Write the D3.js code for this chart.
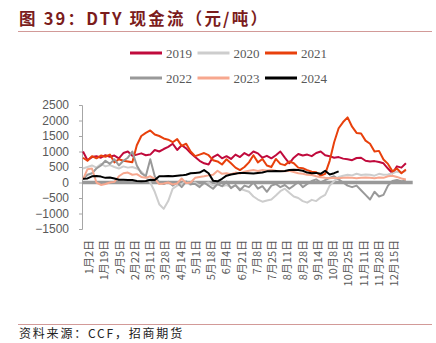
<!doctype html>
<html>
<head>
    <meta charset="utf8">
    <style>
        body { margin: 0; background: #fff; }
        .title { font-family: "Noto Sans CJK SC", sans-serif; font-weight: bold; font-size: 16.5px; fill: #7b1c1c; letter-spacing: 2.2px; }
        .source { font-family: "Noto Sans CJK SC", sans-serif; font-size: 12px; fill: #222; letter-spacing: 1.8px; }
        .legend text { font-family: "Liberation Serif", "DejaVu Serif", serif; font-size: 13px; fill: #595959; }
        .yaxis text { font-family: "Liberation Sans", Arial, sans-serif; font-size: 12px; fill: #595959; }
        .xlabel { font-family: "Noto Sans CJK SC", sans-serif; font-size: 11px; fill: #595959; }
        .series { fill: none; stroke-width: 2px; stroke-linejoin: round; }
    </style>
    <script src="https://d3js.org/d3.v7.min.js"></script>
</head>
<body>
<svg width="436" height="343"></svg>
<script>

    // 每隔 STEP 个交易日取一个点
    var STEP = 5;

    var years = ["2019", "2020", "2021", "2022", "2023", "2024"];
    var colors = ["#c00a3c", "#cdcdcd", "#e8400c", "#999999", "#f7a78e", "#000000"];

    var s2019 = [1000, 720, 820, 850, 800, 880, 830, 870, 780, 950, 1000, 860, 900, 940, 880,
                 900, 1050, 1000, 1080, 1150, 1250, 1050, 1200, 1100, 950, 820, 700, 620, 580, 820,
                 900, 780, 850, 760, 900, 820, 950, 870, 1000, 940, 800, 860, 780, 880, 1000,
                 800, 620, 800, 920, 870, 900, 850, 950, 1000, 880, 850, 800, 820, 770, 750,
                 720, 790, 800, 700, 680, 690, 660, 620, 450, 300, 520, 480, 620];
    var s2020 = [450, 500, 550, 480, 600, 520, 560, 500, 450, 520, 480, 500, 450, 350, 200,
                 0, -300, -700, -850, -600, -200, -100, -50, 50, -80, 0, -100, -50, 0, -100,
                 -50, -120, -80, -150, -100, -200, -250, -300, -450, -550, -620, -580, -550, -420, -280,
                 -200, -330, -450, -500, -600, -650, -560, -600, -480, -400, -100, 50, 180, 220, 250,
                 230, 280, 240, 260, 250, 220, 280, 250, 260, 300, 350, 320, 380];
    var s2021 = [800, 700, 850, 780, 870, 830, 900, 650, 750, 700, 680, 650, 1200, 1500, 1600,
                 1680, 1550, 1500, 1420, 1380, 1300, 1400, 1180, 1250, 1000, 850, 900, 950, 880, 720,
                 680, 580, 750, 620, 480, 400, 500, 650, 880, 650, 760, 550, 500, 760, 600,
                 560, 680, 620, 480, 460, 400, 350, 330, 220, 280, 700, 1300, 1750, 1950, 2100,
                 1800, 1600, 1580, 1350, 1250, 1000, 1020, 740, 600, 360, 450, 300, 420];
    var s2022 = [100, 250, 300, 450, 550, 700, 600, 750, 550, 700, 800, 1000, 550, 300, 200,
                 750, 200, 0, -50, 20, -100, 0, -150, 30, -50, -50, -150, 0, -100, -200,
                 -50, -120, 30, -180, -80, -250, -100, -150, 0, -200, -120, -300, -100, -50, -150,
                 -80, -200, -100, 20, -150, -50, 50, 100, 0, 80, 150, 200, 100, 0, -100,
                 -150, -100, -250, -400, -550, -300, -450, -400, -100, 50, 80, 40, 60];
    var s2023 = [100, 430, 450, 0, -80, -50, 0, 20, 200, 300, 320, 250, 270, 180, 150,
                 200, 120, -50, -30, 0, -60, -30, 130, -20, 0, 150, 180, 200, 230, 250,
                 380, 280, 300, 270, 320, 290, 350, 380, 400, 370, 400, 390, 410, 380, 370,
                 360, 380, 340, 300, 280, 250, 240, 200, 170, 150, 140, 150, 140, 150, 160,
                 150, 140, 150, 160, 150, 140, 160, 150, 200, 220, 180, 130, 100];
    var s2024 = [120, 130, 200, 210, 190, 150, 160, 130, 90, 90, 80, 80, 50, 40, 50,
                 90, 80, 200, 200, 210, 200, 220, 230, 250, 300, 310, 320, 400, 300, 60,
                 40, 120, 220, 260, 280, 310, 310, 300, 290, 310, 320, 360, 360, 370, 360,
                 370, 400, 410, 400, 380, 320, 300, 310, 280, 380, 260, 300, 360];

    var seriesData = [s2019, s2020, s2021, s2022, s2023, s2024];

    // 横轴标签，每 17 个交易日一个，从第 7 个交易日开始
    var xLabels = ["1月2日", "1月19日", "2月5日", "2月22日", "3月11日", "3月28日", "4月14日",
                   "5月1日", "5月18日", "6月4日", "6月21日", "7月8日", "7月25日", "8月11日",
                   "8月28日", "9月14日", "10月8日", "10月25日", "11月11日", "11月28日", "12月15日"];
    var labelStart = 7, labelStep = 17;

    var yTicks = [-1500, -1000, -500, 0, 500, 1000, 1500, 2000, 2500];

    var svg = d3.select("svg");

    // 标题
    svg.append("text")
       .attr("class", "title")
       .attr("x", 19)
       .attr("y", 25)
       .text("图 39：DTY 现金流（元/吨）");

    svg.append("line")
       .attr("x1", 18).attr("x2", 432)
       .attr("y1", 31.5).attr("y2", 31.5)
       .attr("stroke", "#d29a98")
       .attr("stroke-width", 1);

    var x = d3.scaleLinear().domain([0, 362]).range([83, 407.7]),
        y = d3.scaleLinear().domain([-1500, 2500]).range([229, 105]);

    // 纵轴
    var yAxis = svg.append("g")
       .attr("class", "yaxis")
       .attr("transform", "translate(82,0)")
       .call(d3.axisLeft(y).tickValues(yTicks).tickFormat(d3.format("d")).tickSize(3).tickPadding(10));
    yAxis.select(".domain").attr("stroke", "#a6a6a6");
    yAxis.selectAll(".tick line").attr("stroke", "#a6a6a6");

    // 零线
    svg.append("line")
       .attr("x1", x(0) - 1).attr("x2", x(362) + 5)
       .attr("y1", y(0)).attr("y2", y(0))
       .attr("stroke", "#999999")
       .attr("stroke-width", 3.5);

    // 横轴日期标签
    svg.selectAll(".xlabel")
       .data(xLabels)
       .enter().append("text")
       .attr("class", "xlabel")
       .attr("text-anchor", "end")
       .attr("dy", "0.35em")
       .attr("transform", function(d, i) {
           return "translate(" + x(labelStart + i * labelStep) + ",240) rotate(-90)";
       })
       .text(function(d) { return d; });

    var line = d3.line()
        .x(function(d, i) { return x(i * STEP); })
        .y(function(d) { return y(d); });

    svg.selectAll(".series")
       .data(seriesData)
       .enter().append("path")
       .attr("class", "series")
       .attr("stroke", function(d, i) { return colors[i]; })
       .attr("d", line);

    // 图例，两行各三项
    var legend = svg.append("g").attr("class", "legend");
    var item = legend.selectAll("g")
       .data(years)
       .enter().append("g")
       .attr("transform", function(d, i) {
           return "translate(" + (130 + (i % 3) * 67.5) + "," + (53 + Math.floor(i / 3) * 25) + ")";
       });
    item.append("line")
        .attr("x1", 0).attr("x2", 32)
        .attr("stroke", function(d, i) { return colors[i]; })
        .attr("stroke-width", 3);
    item.append("text")
        .attr("x", 36)
        .attr("dy", "0.35em")
        .text(function(d) { return d; });

    // 资料来源
    svg.append("line")
       .attr("x1", 18).attr("x2", 432)
       .attr("y1", 324.5).attr("y2", 324.5)
       .attr("stroke", "#d29a98")
       .attr("stroke-width", 1);

    svg.append("text")
       .attr("class", "source")
       .attr("x", 19)
       .attr("y", 338)
       .text("资料来源：CCF，招商期货");

</script>
</body>
</html>
